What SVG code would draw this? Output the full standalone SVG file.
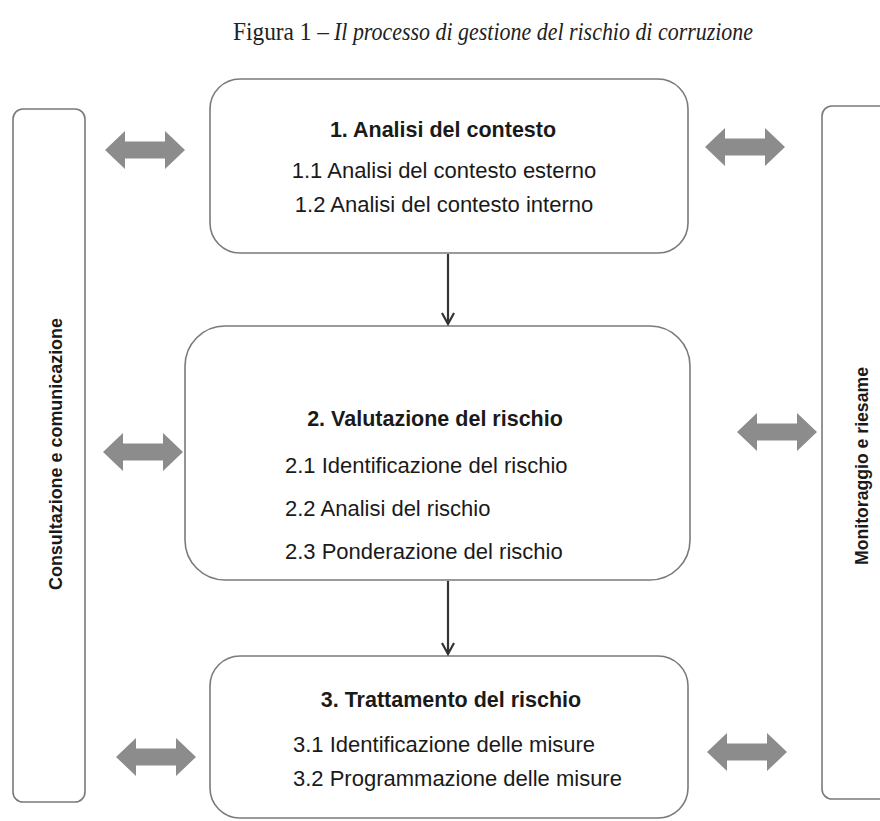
<svg xmlns="http://www.w3.org/2000/svg" width="880" height="821" viewBox="0 0 880 821">
<style>
.box{fill:#fff;stroke:#7a7a7a;stroke-width:1.6}
.t{font-family:"Liberation Sans",Arial,sans-serif;font-size:22px;fill:#1a1a1a}
.b{font-weight:bold;font-size:21.5px}
.v{font-family:"Liberation Sans",Arial,sans-serif;font-size:19px;font-weight:bold;fill:#1a1a1a}
.ttl{font-family:"Liberation Serif","Times New Roman",serif;font-size:26px;fill:#222}
.blk{fill:#8c8c8c}
.ln{stroke:#333;stroke-width:2.2;fill:none}
</style>
<defs>
<path id="dbl" d="M-40,0 L-20,-19 L-20,-8.5 L20,-8.5 L20,-19 L40,0 L20,19 L20,8.5 L-20,8.5 L-20,19 Z"/>
<marker id="ah" viewBox="0 0 14 14" refX="12" refY="7" markerWidth="14" markerHeight="14" markerUnits="userSpaceOnUse" orient="auto">
<path d="M1,1 L12,7 L1,13" fill="none" stroke="#333" stroke-width="2.2"/>
</marker>
</defs>
<g id="title">
<text class="ttl" x="233" y="40" textLength="96" lengthAdjust="spacingAndGlyphs">Figura 1 –</text>
<text class="ttl" x="334" y="40" font-style="italic" textLength="419" lengthAdjust="spacingAndGlyphs">Il processo di gestione del rischio di corruzione</text>
</g>

<g id="side-left">
<rect class="box" x="13" y="109" width="72" height="693" rx="10"/>
<text class="v" transform="translate(62,590) rotate(-90)" textLength="272" lengthAdjust="spacingAndGlyphs">Consultazione e comunicazione</text>
</g>
<g id="side-right">
<rect class="box" x="822" y="106" width="72" height="693" rx="10"/>
<text class="v" transform="translate(868,565) rotate(-90)" textLength="198" lengthAdjust="spacingAndGlyphs">Monitoraggio e riesame</text>
</g>

<g id="step1">
<rect class="box" x="210" y="79" width="478" height="174" rx="30"/>
<text class="t b" x="443" y="137" text-anchor="middle">1. Analisi del contesto</text>
<text class="t" x="444" y="178" text-anchor="middle">1.1 Analisi del contesto esterno</text>
<text class="t" x="444" y="212" text-anchor="middle">1.2 Analisi del contesto interno</text>
</g>
<g id="step2">
<rect class="box" x="185" y="326" width="505" height="254" rx="40"/>
<text class="t b" x="435" y="426" text-anchor="middle">2. Valutazione del rischio</text>
<text class="t" x="285" y="473">2.1 Identificazione del rischio</text>
<text class="t" x="285" y="516">2.2 Analisi del rischio</text>
<text class="t" x="285" y="559">2.3 Ponderazione del rischio</text>
</g>
<g id="step3">
<rect class="box" x="210" y="656" width="478" height="162" rx="30"/>
<text class="t b" x="451" y="707" text-anchor="middle">3. Trattamento del rischio</text>
<text class="t" x="293" y="752">3.1 Identificazione delle misure</text>
<text class="t" x="293" y="786">3.2 Programmazione delle misure</text>
</g>

<g id="connectors">
<line class="ln" x1="448" y1="254" x2="448" y2="324" marker-end="url(#ah)"/>
<line class="ln" x1="448" y1="581" x2="448" y2="654" marker-end="url(#ah)"/>
<use href="#dbl" class="blk" transform="translate(145,150)"/>
<use href="#dbl" class="blk" transform="translate(745,147)"/>
<use href="#dbl" class="blk" transform="translate(143,452)"/>
<use href="#dbl" class="blk" transform="translate(777,432)"/>
<use href="#dbl" class="blk" transform="translate(156,757)"/>
<use href="#dbl" class="blk" transform="translate(747,752)"/>
</g>
</svg>
